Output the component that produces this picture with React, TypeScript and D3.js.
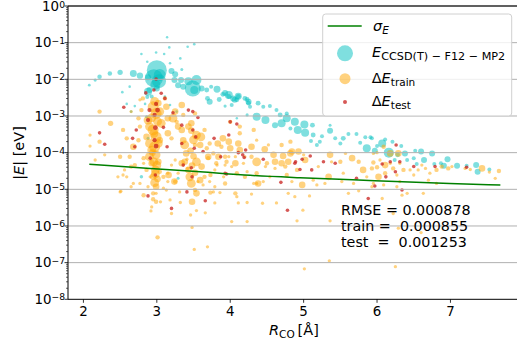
import React from 'react';
import * as d3 from 'd3';

// [R_CO (Å), log10|E| (eV), marker weight]
const tealPoints: [number, number, number][] = [
  [2.08,-2.16,2],[2.16,-2.02,2.5],[2.22,-1.93,5],[2.36,-1.84,5],[2.50,-1.81,7],[2.68,-1.84,12],[2.77,-1.90,10],[2.88,-1.94,9],
  [3.00,-1.75,100],[2.96,-1.97,81],[3.03,-2.05,49],[2.98,-2.15,25],[3.04,-1.88,36],[2.90,-2.29,9],[2.87,-2.48,4],[3.00,-2.25,9],[3.20,-1.77,9],[3.25,-1.86,9],
  [3.24,-2.02,9],[3.29,-2.16,9],[3.33,-2.02,9],[3.36,-2.20,9],[3.43,-2.05,16],[3.49,-2.25,64],[3.54,-2.02,25],[3.51,-2.29,16],
  [3.61,-2.25,9],[3.68,-2.29,6],[3.82,-2.27,12],[3.69,-2.52,6],[3.85,-2.55,6],[3.90,-2.41,6],[3.72,-2.61,9],[3.93,-2.73,2.5],
  [3.74,-2.20,4],[3.93,-2.37,9],[3.98,-2.47,6],[4.04,-2.52,9],[4.09,-2.56,6],[4.11,-2.47,6],[4.23,-2.55,6],[4.25,-2.65,6],
  [4.23,-2.97,2.5],[4.09,-3.06,1.5],
  [3.14,-0.85,1.5],[3.17,-1.13,1.7],[3.51,-1.04,1.7],[3.42,-1.11,1.7],[2.79,-1.31,1.7],[2.87,-1.52,1.7],[2.99,-1.27,1.7],
  [3.10,-1.31,1.7],[3.18,-1.56,1.7],[3.34,-1.73,2.25],[3.32,-1.43,1.7],
  [2.53,-2.35,1.7],[2.63,-2.20,1.7],[2.88,-2.34,16],[2.93,-2.47,4],[2.84,-2.67,1.7],[2.59,-2.67,1.7],[2.70,-2.73,1.7],
  [2.65,-2.88,1.7],[2.88,-3.61,2.25],[2.79,-4.66,3],[3.29,-4.70,2.25],[3.18,-2.70,1.7],[3.27,-2.88,1.7],[3.11,-2.47,1.7],[2.86,-3.02,2.25],
  [3.98,-2.43,16],[4.06,-2.56,9],[4.11,-2.46,12],[4.02,-2.70,4],[4.20,-2.52,6],[4.25,-2.61,9],[4.27,-2.75,4],[4.38,-2.65,6],
  [4.45,-2.75,4],[4.54,-2.73,4],[4.63,-2.84,4],[4.36,-3.02,16],[4.48,-3.11,16],[4.68,-2.97,6],[4.77,-2.93,4],[4.77,-3.06,16],
  [4.70,-3.20,16],[4.61,-3.25,9],[4.88,-3.16,16],[5.01,-3.23,16],[4.92,-3.38,16],[5.02,-3.46,16],[5.12,-3.25,6],[5.13,-3.52,6],
  [5.10,-3.68,4],[4.82,-3.34,4],[5.25,-3.55,4],[5.36,-3.40,9],[5.36,-3.25,2.25],[5.43,-3.61,4],[5.50,-3.75,4],[5.54,-3.61,6],
  [5.61,-3.49,4],[5.72,-3.49,4],[5.77,-3.73,4],[5.84,-3.58,4],[5.91,-3.58,4],[5.86,-3.88,16],[5.97,-3.95,9],[5.22,-3.70,4],[5.18,-3.79,4],
  [5.93,-3.61,4],[6.00,-3.82,4],[6.07,-3.75,16],[6.11,-3.64,4],[6.16,-4.00,25],[6.21,-3.70,4],[6.24,-4.20,4],[6.28,-4.06,6],
  [6.33,-3.82,4],[6.38,-4.02,9],[6.41,-4.20,4],[6.52,-3.95,4],[6.50,-4.15,4],[6.60,-3.97,9],[6.64,-4.20,9],[6.75,-4.02,9],
  [6.78,-4.31,4],[6.87,-4.29,4],[6.96,-4.18,9],[6.91,-4.36,9],[7.09,-4.36,9],[7.22,-4.36,4],[7.35,-4.34,9],[7.37,-4.52,9],
  [7.53,-4.46,4],[6.54,-4.31,4],
];

const trainPoints: [number, number, number][] = [
  [2.22,-2.88,4],[2.37,-3.20,6],[2.09,-3.52,2.25],[2.09,-3.82,2.25],[2.22,-3.70,4],[2.29,-4.06,2.25],[2.16,-4.20,2.25],[2.50,-4.11,4],
  [2.63,-4.11,4],[2.56,-4.47,2.25],[2.65,-4.38,4],[2.50,-5.07,2.25],[2.54,-3.38,4],[2.59,-3.61,4],[2.68,-3.84,9],[2.75,-3.66,4],
  [2.77,-3.29,4],[2.75,-3.06,4],[2.65,-2.88,2.25],[2.79,-2.84,4],[2.81,-2.52,4],[2.77,-2.56,2.25],[2.88,-3.11,16],[2.90,-3.29,16],
  [2.86,-3.57,9],[2.90,-3.75,16],[2.93,-3.93,16],[2.90,-4.11,16],[2.93,-4.29,9],[2.95,-2.75,25],[2.99,-2.93,25],[2.95,-3.38,25],
  [2.99,-3.57,25],[2.97,-3.84,25],[2.99,-4.06,16],[2.96,-4.25,16],[2.98,-4.47,16],[2.97,-4.82,16],[2.99,-4.93,9],[3.04,-2.88,16],
  [3.06,-3.20,16],[3.04,-3.66,9],[3.02,-4.25,9],[3.11,-2.52,4],[3.13,-2.75,9],[3.15,-3.06,9],[3.15,-3.47,9],[3.20,-3.61,4],
  [2.93,-3.05,16],[3.01,-3.15,16],[2.96,-3.48,16],[3.02,-3.75,16],[2.94,-4.00,9],[3.00,-4.35,16],[2.95,-4.65,9],[3.01,-4.72,9],
  [2.97,-2.60,16],[3.02,-2.65,9],[3.47,-3.40,9],[3.50,-3.65,16],[3.46,-3.95,9],[3.50,-4.10,9],[3.48,-4.35,9],[3.52,-4.55,9],
  [3.22,-3.06,16],[3.25,-2.88,9],[3.27,-3.16,4],[3.29,-3.29,9],[3.34,-3.38,9],[3.36,-3.66,9],[3.38,-3.79,16],[3.40,-4.02,9],
  [3.38,-4.25,9],[3.43,-4.47,9],[3.45,-4.66,16],[3.47,-4.84,16],[3.43,-3.29,9],[3.47,-3.20,9],[3.54,-3.52,16],[3.60,-3.57,16],
  [3.59,-3.79,9],[3.52,-3.79,4],[3.52,-2.93,4],[3.34,-2.70,9],[3.36,-2.97,4],[3.65,-3.38,4],[3.68,-3.88,4],[3.70,-4.15,4],
  [3.72,-3.75,4],[3.77,-4.02,4],[3.81,-4.29,4],[3.83,-3.75,9],[3.88,-3.84,4],[3.90,-3.61,9],[3.93,-4.11,4],[3.93,-4.34,2.25],
  [3.79,-4.47,2.25],[3.65,-4.66,4],[3.72,-4.79,2.25],[3.56,-4.79,2.25],[3.52,-5.02,4],[3.29,-4.56,2.25],[3.25,-4.79,4],[3.15,-4.56,2.25],
  [3.15,-4.79,2.25],[3.13,-5.02,2.25],[2.99,-5.11,2.25],[2.88,-4.93,2.25],[2.77,-4.84,2.25],[2.65,-4.93,2.25],[2.59,-4.66,2.25],[2.47,-4.66,2.25],
  [2.70,-4.34,4],[2.82,-4.15,4],[2.82,-4.29,2.25],[2.86,-4.47,4],[2.54,-4.61,2.25],[2.68,-4.84,2.25],[2.91,-4.66,2.25],[2.98,-4.58,16],
  [3.04,-4.52,4],[3.09,-4.66,4],[3.16,-4.61,9],[3.20,-4.34,2.25],[3.25,-4.20,2.25],[3.34,-4.29,9],[3.42,-4.43,2.25],[3.41,-4.18,2.25],
  [3.54,-4.25,16],[3.59,-4.75,9],[3.63,-4.88,2.25],[3.61,-4.38,9],[3.70,-4.11,9],[3.73,-4.61,4],[3.82,-4.34,2.25],[3.84,-4.11,9],
  [3.79,-4.93,2.25],[3.91,-4.66,2.25],[3.95,-4.25,4],[3.93,-4.84,4],[4.02,-4.38,2.25],[4.07,-4.11,2.25],[4.09,-4.56,4],[4.18,-4.29,2.25],
  [4.23,-4.52,2.25],[4.36,-4.25,16],[4.36,-4.56,4],[4.45,-4.79,2.25],[4.48,-4.38,2.25],[4.59,-4.06,9],[4.61,-4.43,2.25],[4.70,-4.29,9],
  [4.77,-4.61,4],[4.84,-4.79,2.25],[4.91,-4.47,4],[4.82,-4.02,9],
  [2.82,-5.16,4],[2.95,-5.11,4],[2.95,-5.27,4],[2.93,-5.48,2.25],[2.92,-5.59,2.25],[3.05,-5.34,2.25],[3.18,-5.29,2.25],[3.20,-5.66,2.25],
  [3.31,-5.07,2.25],[3.32,-5.36,2.25],[3.48,-5.34,9],[3.54,-5.11,9],[3.46,-5.70,2.25],[3.54,-5.58,2.25],[3.66,-5.64,2.25],[3.73,-5.09,4],
  [3.79,-5.37,2.25],[3.86,-5.09,2.25],[4.07,-5.11,4],[4.09,-5.20,2.25],[4.11,-5.37,2.25],[4.23,-5.36,2.25],[4.29,-5.13,2.25],[4.44,-5.38,2.25],
  [4.63,-5.37,2.25],[4.79,-5.11,2.25],[4.88,-5.20,2.25],[4.02,-5.88,2.25],[4.23,-5.88,2.25],[3.48,-6.04,2.25],[3.01,-6.31,4],[3.51,-6.64,2.25],
  [3.69,-6.57,2.25],[4.91,-5.86,2.25],[2.99,-5.34,4],[3.24,-4.79,9],[3.77,-5.07,2.25],[4.36,-4.84,2.25],[3.09,-4.97,2.25],[2.51,-5.05,2.25],
  [4.99,-5.57,2.25],[5.08,-5.18,2.25],[5.36,-5.86,2.25],[5.35,-6.95,2.25],[5.01,-7.17,2.25],[5.61,-5.11,2.25],[5.75,-5.04,2.25],[6.22,-5.66,2.25],
  [6.25,-7.11,2.25],[6.60,-6.18,2.25],[6.29,-6.06,2.25],[4.32,-4.84,2.25],[4.54,-4.66,2.25],[5.18,-4.88,2.25],[5.34,-4.66,9],[5.54,-4.56,2.25],
  [6.02,-4.66,9],[6.27,-4.93,2.25],[6.63,-5.11,2.25],[6.81,-4.84,2.25],
  [4.00,-3.16,4],[4.13,-3.47,4],[3.98,-3.70,9],[4.11,-3.75,9],[4.00,-3.88,9],[4.13,-3.93,9],[4.20,-4.11,2.25],[3.98,-4.11,2.25],
  [4.07,-4.29,9],[4.36,-3.66,2.25],[4.47,-3.91,9],[4.29,-4.11,4],[4.50,-4.29,4],[4.61,-4.25,9],[4.72,-4.09,9],[4.75,-4.38,4],
  [4.79,-4.25,9],[4.84,-3.97,9],[4.93,-3.97,9],[5.00,-4.06,2.25],[5.02,-4.20,9],[5.20,-4.38,2.25],[5.36,-4.06,9],[5.38,-4.25,2.25],
  [5.50,-4.25,4],[5.66,-4.15,9],[5.75,-4.25,4],[5.81,-4.47,9],[5.93,-4.43,4],[5.95,-4.02,2.25],[5.57,-4.02,2.25],[4.20,-4.66,4],
  [4.38,-4.84,9],[4.98,-4.88,9],[5.13,-4.75,2.25],[5.29,-4.84,2.25],[5.52,-4.79,2.25],[5.68,-4.84,2.25],[5.86,-4.66,2.25],[5.93,-4.93,2.25],
  [4.82,-3.70,4],[4.70,-3.79,4],[4.52,-3.79,2.25],[4.13,-3.29,4],[4.32,-3.38,4],[4.29,-3.84,9],
  [5.95,-4.27,4],[6.00,-4.40,4],[6.04,-4.20,2.25],[6.11,-4.34,9],[6.11,-4.56,4],[6.18,-4.29,2.25],[6.22,-4.43,4],[6.27,-4.61,2.25],
  [6.31,-4.29,2.25],[6.36,-4.47,4],[6.45,-4.47,2.25],[6.50,-4.61,2.25],[6.56,-4.47,2.25],[6.61,-4.34,2.25],[6.66,-4.43,2.25],[6.72,-4.56,2.25],
  [6.81,-4.47,4],[6.88,-4.38,4],[6.97,-4.43,4],[7.02,-4.38,2.25],[7.20,-4.43,2.25],[7.27,-4.46,2.25],[7.43,-4.43,9],[6.18,-4.02,9],
  [6.29,-4.02,9],[6.09,-3.84,4],[6.00,-4.00,2.25],[6.31,-4.79,2.25],[5.95,-4.84,2.25],[6.09,-4.88,2.25],[6.70,-4.75,2.25],[6.41,-5.11,2.25],
  [6.07,-5.25,2.25],[6.34,-5.16,2.25],[7.66,-4.50,4],[7.61,-4.70,2.25],[7.53,-4.53,2.25],
];

const testPoints: [number, number, number][] = [
  [2.99,-1.99,5],[2.96,-2.29,5],[3.06,-2.38,5],[2.85,-2.37,5],[2.99,-2.67,7],[2.90,-2.84,7],[3.01,-2.84,9],[2.97,-2.97,7],
  [2.88,-3.11,7],[2.98,-3.32,9],[3.09,-3.31,5],[2.97,-3.66,7],[2.99,-3.82,9],[2.98,-4.61,5],[3.11,-2.52,5],[2.55,-2.76,5],
  [2.72,-3.38,5],[2.29,-3.77,5],[2.22,-3.46,5],[3.22,-2.91,5],[3.34,-3.25,5],[3.43,-2.84,5],[3.49,-2.88,5],[3.56,-3.04,5],
  [3.49,-3.38,5],[3.53,-3.57,5],[3.34,-3.75,5],[3.51,-3.88,5],[3.78,-3.61,5],[3.87,-4.11,5],[3.36,-4.34,5],[3.47,-4.41,5],
  [3.41,-5.07,5],[2.88,-5.18,5],[2.70,-3.84,5],[2.91,-4.15,5],[3.20,-5.52,5],[3.48,-4.66,5],[3.66,-5.31,5],[3.95,-4.58,5],
  [4.69,-4.81,5],[4.78,-5.57,5],[4.89,-4.25,5],[4.45,-4.18,5],[4.19,-4.13,5],[3.63,-3.97,5],[4.00,-3.16,5],[4.21,-3.93,5],
  [4.88,-4.29,5],[4.98,-4.18,5],[5.09,-4.09,5],[5.27,-4.25,5],[5.43,-4.29,5],[5.72,-4.70,5],[5.88,-5.25,5],[3.98,-3.52,5],
  [3.93,-4.56,5],[4.95,-4.46,5],[5.11,-4.47,5],[4.11,-4.00,5],[5.97,-4.91,5],[6.07,-4.31,5],[6.18,-4.25,5],[6.31,-4.25,5],
  [6.25,-4.52,5],[6.50,-4.38,5],[6.79,-4.38,5],[7.22,-4.40,5],[6.34,-5.02,5],[6.26,-3.79,5],[6.12,-4.66,5],[2.67,-3.61,5],
  [3.14,-3.84,5],[4.09,-3.22,5],[4.17,-4.06,5],
];

const sigmaR = [2.08, 2.91, 3.59, 4.27, 4.95, 5.97, 6.99, 7.68];
const sigmaE = [4.8e-5, 3.7e-5, 3.0e-5, 2.4e-5, 2.06e-5, 1.72e-5, 1.44e-5, 1.31e-5];

const xTicks = [2, 3, 4, 5, 6, 7];
const yTickExps = [0, -1, -2, -3, -4, -5, -6, -7, -8];
const statLines = ['RMSE = 0.000878', 'train =  0.000855', 'test  =  0.001253'];

const FONT = '"DejaVu Sans", sans-serif';

export default function App() {
  const W = 517, H = 343;
  const left = 68, top = 6, bottom = 299.3;
  const x = d3.scaleLinear().domain([1.79, 8.1]).range([68, 531.2]);
  const y = d3.scaleLog().domain([1e-8, 1]).range([bottom, top]);
  const r = d3.scaleSqrt().domain([0, 100]).range([0, 10]);
  const rTrain = d3.scaleSqrt().domain([0, 100]).range([0, 11]);
  const rTest = d3.scaleSqrt().domain([0, 100]).range([0, 8]);
  const line = d3.line<number>().x((_, i) => x(sigmaR[i])).y((d) => y(d)).curve(d3.curveMonotoneX);

  const minor: number[] = [];
  for (let k = -8; k < 0; k++) for (let m = 2; m <= 9; m++) minor.push(m * Math.pow(10, k));

  const teal = '#00bfbf', orange = '#ffa500', red = '#c8201e';

  return (
    <svg width={W} height={H} style={{ position: 'absolute', left: 0, top: 0, background: '#fff' }} fontFamily={FONT}>
      <defs>
        <clipPath id="plot"><rect x={left} y={top} width={W - left} height={bottom - top} /></clipPath>
      </defs>
      <rect x={0} y={0} width={W} height={H} fill="#fff" />
      <g clipPath="url(#plot)">
        {tealPoints.map((d, i) => (
          <circle key={'t' + i} cx={x(d[0])} cy={y(Math.pow(10, d[1]))} r={r(d[2])} fill={teal} fillOpacity={0.5} />
        ))}
        {trainPoints.map((d, i) => (
          <circle key={'o' + i} cx={x(d[0])} cy={y(Math.pow(10, d[1]))} r={rTrain(d[2])} fill={orange} fillOpacity={0.5} />
        ))}
        {testPoints.map((d, i) => (
          <circle key={'r' + i} cx={x(d[0])} cy={y(Math.pow(10, d[1]))} r={rTest(d[2])} fill={red} fillOpacity={0.75} />
        ))}
        {yTickExps.filter((e) => e < 0 && e > -8).map((e) => (
          <line key={'g' + e} x1={left} x2={W} y1={y(Math.pow(10, e))} y2={y(Math.pow(10, e))} stroke="#b0b0b0" strokeWidth={1} />
        ))}
        <path d={line(sigmaE) || ''} fill="none" stroke="#008000" strokeWidth={1.5} />
      </g>
      {/* spines */}
      <line x1={left} x2={W} y1={top} y2={top} stroke="#606060" strokeWidth={1.8} />
      <line x1={left} x2={left} y1={top} y2={bottom} stroke="#000" strokeWidth={1} />
      <line x1={left} x2={W} y1={bottom} y2={bottom} stroke="#000" strokeWidth={1} />
      {/* x ticks */}
      {xTicks.map((t) => (
        <g key={'xt' + t}>
          <line x1={x(t)} x2={x(t)} y1={bottom} y2={bottom + 3.5} stroke="#000" strokeWidth={0.8} />
          <text x={x(t)} y={315.7} fontSize={13.4} textAnchor="middle">{t}</text>
        </g>
      ))}
      {/* y ticks */}
      {minor.map((v, i) => (
        <line key={'ym' + i} x1={left - 2} x2={left} y1={y(v)} y2={y(v)} stroke="#000" strokeWidth={0.6} />
      ))}
      {yTickExps.map((e) => (
        <g key={'yt' + e}>
          <line x1={left - 3.5} x2={left} y1={y(Math.pow(10, e))} y2={y(Math.pow(10, e))} stroke="#000" strokeWidth={0.8} />
          <text x={65} y={y(Math.pow(10, e)) + 4.7} fontSize={13.4} textAnchor="end">
            10<tspan fontSize={9.2} dy={e === 0 ? -2.4 : -3.8}>{e < 0 ? '\u2212' + Math.abs(e) : String(e)}</tspan>
          </text>
        </g>
      ))}
      {/* axis labels */}
      <text x={269} y={335} fontSize={14.5}>
        <tspan fontStyle="italic">R</tspan><tspan fontSize={10.5} dy={3}>CO</tspan><tspan dy={-3}>{'\u2009[\u00C5]'}</tspan>
      </text>
      <text transform="translate(24,153) rotate(-90)" fontSize={14.5} textAnchor="middle">
        |<tspan fontStyle="italic">E</tspan>| [eV]
      </text>
      {/* stats */}
      {statLines.map((s, i) => (
        <text key={'s' + i} x={341} y={215 + i * 15.9} fontSize={14.3} style={{ whiteSpace: 'pre' }}>{s}</text>
      ))}
      {/* legend */}
      <g>
        <rect x={322.7} y={14} width={189} height={102} rx={3} fill="#fff" fillOpacity={0.8} stroke="#d0d0d0" strokeWidth={1} />
        <line x1={327.7} x2={361.7} y1={26} y2={26} stroke="#008000" strokeWidth={1.5} />
        <text x={373} y={30.5} fontSize={14.5}>
          <tspan fontStyle="italic">σ</tspan><tspan fontStyle="italic" fontSize={10.5} dy={3}>E</tspan>
        </text>
        <circle cx={345} cy={53.3} r={8} fill={teal} fillOpacity={0.5} />
        <text x={372} y={57.3} fontSize={14.5}>
          <tspan fontStyle="italic">E</tspan><tspan fontSize={11.2} dy={3}>{'CCSD(T) \u2212 F12 \u2212 MP2'}</tspan>
        </text>
        <circle cx={345} cy={78.7} r={5.5} fill={orange} fillOpacity={0.5} />
        <text x={371.7} y={82.7} fontSize={14.5}>
          Δ<tspan fontStyle="italic">E</tspan><tspan fontSize={10.5} dy={3}>train</tspan>
        </text>
        <circle cx={345} cy={102} r={2} fill={red} fillOpacity={0.75} />
        <text x={371.7} y={106} fontSize={14.5}>
          Δ<tspan fontStyle="italic">E</tspan><tspan fontSize={10.5} dy={3}>test</tspan>
        </text>
      </g>
    </svg>
  );
}
